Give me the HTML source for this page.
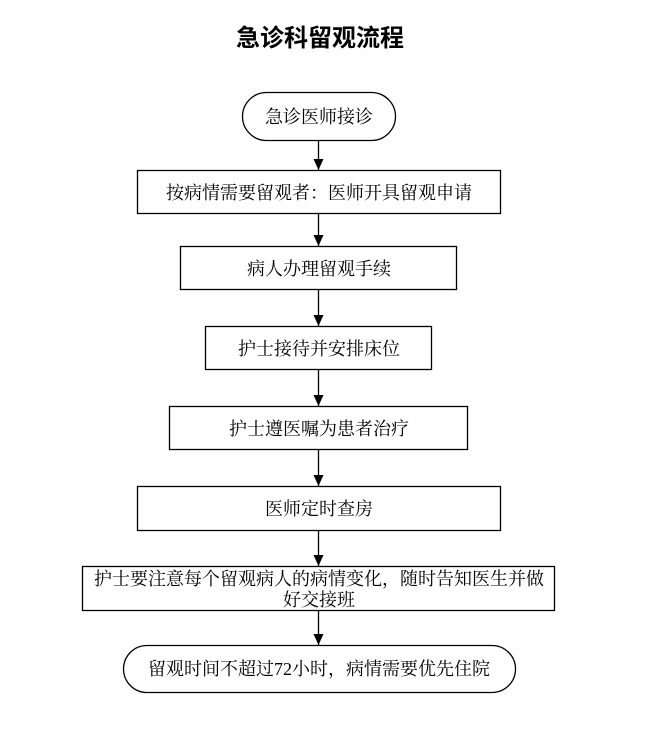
<!DOCTYPE html>
<html><head><meta charset="utf-8"><style>
html,body{margin:0;padding:0;background:#fff;}
svg text{font-family:"Liberation Serif","Noto Serif CJK SC",serif;fill:#000;}
</style></head><body>
<svg width="645" height="733" xmlns="http://www.w3.org/2000/svg">
<defs><marker id="a" markerWidth="12" markerHeight="10" refX="11" refY="5" orient="auto" markerUnits="userSpaceOnUse"><path d="M0,0 L11,5 L0,10 z" fill="#000"/></marker></defs>
<text x="320" y="46" text-anchor="middle" font-size="24" font-weight="bold" style="font-family:'Liberation Sans','Noto Sans CJK SC',sans-serif">急诊科留观流程</text>
<g fill="none" stroke="#000" stroke-width="1.3">
<rect x="242.5" y="92.5" width="153" height="48" rx="24"/>
<rect x="137.5" y="170.5" width="363" height="43"/>
<rect x="180.5" y="246.5" width="276" height="43"/>
<rect x="205.5" y="326.5" width="226" height="43"/>
<rect x="169.5" y="406.5" width="298" height="43"/>
<rect x="137.5" y="486.5" width="363" height="44"/>
<rect x="82.5" y="566.5" width="472" height="44"/>
<rect x="123.5" y="645.5" width="392" height="47" rx="23.5"/>
<line x1="318.5" y1="141" x2="318.5" y2="170" marker-end="url(#a)"/>
<line x1="318.5" y1="214" x2="318.5" y2="246" marker-end="url(#a)"/>
<line x1="318.5" y1="290" x2="318.5" y2="326" marker-end="url(#a)"/>
<line x1="318.5" y1="370" x2="318.5" y2="406" marker-end="url(#a)"/>
<line x1="318.5" y1="450" x2="318.5" y2="486" marker-end="url(#a)"/>
<line x1="318.5" y1="531" x2="318.5" y2="566" marker-end="url(#a)"/>
<line x1="318.5" y1="611" x2="318.5" y2="645" marker-end="url(#a)"/>
</g>
<g font-size="18" text-anchor="middle">
<text x="319" y="123">急诊医师接诊</text>
<text x="319" y="199">按病情需要留观者：医师开具留观申请</text>
<text x="319" y="275">病人办理留观手续</text>
<text x="319" y="355">护士接待并安排床位</text>
<text x="319" y="435">护士遵医嘱为患者治疗</text>
<text x="319" y="515">医师定时查房</text>
<text x="319" y="585">护士要注意每个留观病人的病情变化，随时告知医生并做</text>
<text x="319" y="606">好交接班</text>
<text x="319" y="675">留观时间不超过72小时，病情需要优先住院</text>
</g>
</svg>
</body></html>
